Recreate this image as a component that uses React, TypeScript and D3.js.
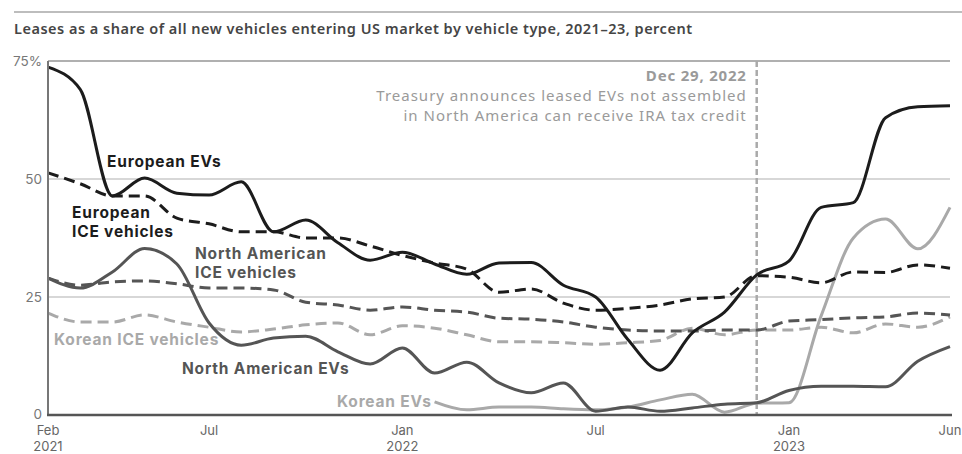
import React from 'react';
import * as d3 from 'd3';

// ---- data (month index 0 = Feb 2021 ... 28 = Jun 2023) ----
const tickIdx = [0, 5, 11, 17, 23, 28];
const tickMonth = ['Feb', 'Jul', 'Jan', 'Jul', 'Jan', 'Jun'];
const tickYear = ['2021', '', '2022', '', '2023', ''];
const yTicks = [0, 25, 50, 75];
const yTickLabels = ['0', '25', '50', '75%'];

const euEV = [73.7, 69, 46.4, 50.2, 47, 46.6, 49.4, 38.8, 41.3, 36.5, 32.8, 34.5, 32, 29.8, 32.2, 32.3, 27.5, 25, 16, 9.5, 17.4, 21.8, 29.7, 32.6, 44, 45, 63, 65.3, 65.5];
const euICE = [51.3, 49, 46.4, 46.4, 41.7, 40.5, 38.8, 38.8, 37.5, 37.5, 35.8, 33.8, 32.2, 30.9, 26, 26.7, 23.7, 22.2, 22.6, 23.3, 24.6, 25, 29.5, 29.2, 28, 30.3, 30.2, 31.8, 31.1];
const naEV = [29, 26.9, 30.3, 35.3, 32, 19.5, 14.8, 16.3, 16.7, 13.4, 10.8, 14.2, 8.9, 11.2, 6.8, 4.7, 6.8, 0.8, 1.7, 0.8, 1.5, 2.3, 2.6, 5.2, 6.1, 6.1, 6, 11.4, 14.5];
const naICE = [29, 27.5, 28.2, 28.4, 27.8, 26.9, 26.9, 26.5, 23.9, 23.3, 22.2, 22.9, 22.2, 21.8, 20.5, 20.3, 19.7, 18.6, 18, 17.8, 17.8, 18, 18, 19.9, 20.2, 20.6, 20.8, 21.6, 21.2];
const krICE = [21.6, 19.7, 19.7, 21.2, 19.7, 18.6, 17.6, 18.2, 19.1, 19.5, 17, 18.9, 18.4, 17, 15.5, 15.5, 15.3, 15, 15.3, 15.8, 18.4, 17, 18, 18, 18.6, 17.4, 19.3, 18.6, 20.8];
const krEVStart = 12;
const krEV = [2.8, 1.1, 1.7, 1.7, 1.3, 1.1, 1.7, 3.2, 4.4, 0.6, 2.5, 2.6, 21, 37.5, 41.5, 35.2, 44];

const eventIdx = 22;
const eventTitle = 'Dec 29, 2022';
const eventLines = ['Treasury announces leased EVs not assembled', 'in North America can receive IRA tax credit'];
const title = 'Leases as a share of all new vehicles entering US market by vehicle type, 2021\u201323, percent';

const FONT = "'Noto Sans', sans-serif";
const FONT2 = "Inter, 'Noto Sans', sans-serif";
const C_EU = '#1c1c1c';
const C_NA = '#555555';
const C_KR = '#a9a9a9';

export default function App() {
  const W = 962, H = 454;
  const x = d3.scaleLinear().domain([0, 28]).range([48, 950]);
  const y = d3.scaleLinear().domain([0, 75]).range([415, 61]);
  const line = d3.line<[number, number]>().x(d => x(d[0])).y(d => y(d[1])).curve(d3.curveMonotoneX);
  const pts = (vals: number[], start = 0): [number, number][] => vals.map((v, i) => [i + start, v]);

  const series = [
    { vals: krICE, start: 0, color: C_KR, dash: '11,6' },
    { vals: krEV, start: krEVStart, color: C_KR, dash: '' },
    { vals: naICE, start: 0, color: C_NA, dash: '11,6' },
    { vals: naEV, start: 0, color: C_NA, dash: '' },
    { vals: euICE, start: 0, color: C_EU, dash: '11,6' },
    { vals: euEV, start: 0, color: C_EU, dash: '' },
  ];

  const labels = [
    { lines: ['European EVs'], x: 107, y: 167, color: C_EU },
    { lines: ['European', 'ICE vehicles'], x: 72, y: 218, color: C_EU },
    { lines: ['North American', 'ICE vehicles'], x: 195, y: 259, color: C_NA },
    { lines: ['Korean ICE vehicles'], x: 54, y: 345, color: C_KR },
    { lines: ['North American EVs'], x: 182, y: 374, color: C_NA },
    { lines: ['Korean EVs'], x: 337, y: 407, color: C_KR },
  ];

  const ex = x(eventIdx);

  return (
    <svg width={W} height={H} style={{ position: 'absolute', left: 0, top: 0, display: 'block', background: '#fff' }} fontFamily={FONT}>
      <line x1={14} x2={W} y1={12} y2={12} stroke="#bdbdbd" strokeWidth={2} />
      <text x={14} y={34} fontSize={14.5} fontWeight={600} letterSpacing={0.5} fill="#454545">{title}</text>

      {yTicks.filter(t => t > 0).map(t => (
        <line key={t} x1={x(0)} x2={x(28)} y1={y(t)} y2={y(t)} stroke="#b0b0b0" strokeWidth={t === 75 ? 2 : 1.2} />
      ))}
      {yTicks.map((t, i) => (
        <text key={t} x={42} y={y(t) + (t === 0 ? 3.5 : 4.7)} textAnchor="end" fontFamily={FONT2} fontSize={13.5} fill="#777">{yTickLabels[i]}</text>
      ))}

      <line x1={ex} x2={ex} y1={y(75)} y2={y(0)} stroke="#aaa" strokeWidth={2.5} strokeDasharray="6,3" />
      <text x={ex - 10} y={81} textAnchor="end" fontSize={15} fontWeight={700} letterSpacing={0.8} fill="#9a9a9a">{eventTitle}</text>
      {eventLines.map((l, i) => (
        <text key={i} x={ex - 10} y={101 + i * 20} textAnchor="end" fontSize={15} letterSpacing={1} fill="#9a9a9a">{l}</text>
      ))}

      {series.map((s, i) => (
        <path key={i} d={line(pts(s.vals, s.start)) || ''} fill="none" stroke={s.color} strokeWidth={3}
          strokeDasharray={s.dash || undefined} strokeLinejoin="round" />
      ))}

      <line x1={x(0)} x2={x(0)} y1={y(75)} y2={y(0)} stroke="#777" strokeWidth={2} />
      <line x1={x(0) - 1} x2={x(28) + 2} y1={y(0)} y2={y(0)} stroke="#555" strokeWidth={2.5} />

      {tickIdx.map((t, i) => (
        <g key={i}>
          <text x={x(t)} y={434.5} textAnchor="middle" fontFamily={FONT2} fontSize={13} fill="#666">{tickMonth[i]}</text>
          {tickYear[i] && <text x={x(t)} y={450.5} textAnchor="middle" fontFamily={FONT2} fontSize={13} fill="#666">{tickYear[i]}</text>}
        </g>
      ))}

      {labels.map((l, i) => (
        <text key={i} x={l.x} y={l.y} fontFamily={FONT2} fontSize={15.5} fontWeight={700} letterSpacing={0.8} fill={l.color}>
          {l.lines.map((t, j) => <tspan key={j} x={l.x} dy={j === 0 ? 0 : 19}>{t}</tspan>)}
        </text>
      ))}
    </svg>
  );
}
